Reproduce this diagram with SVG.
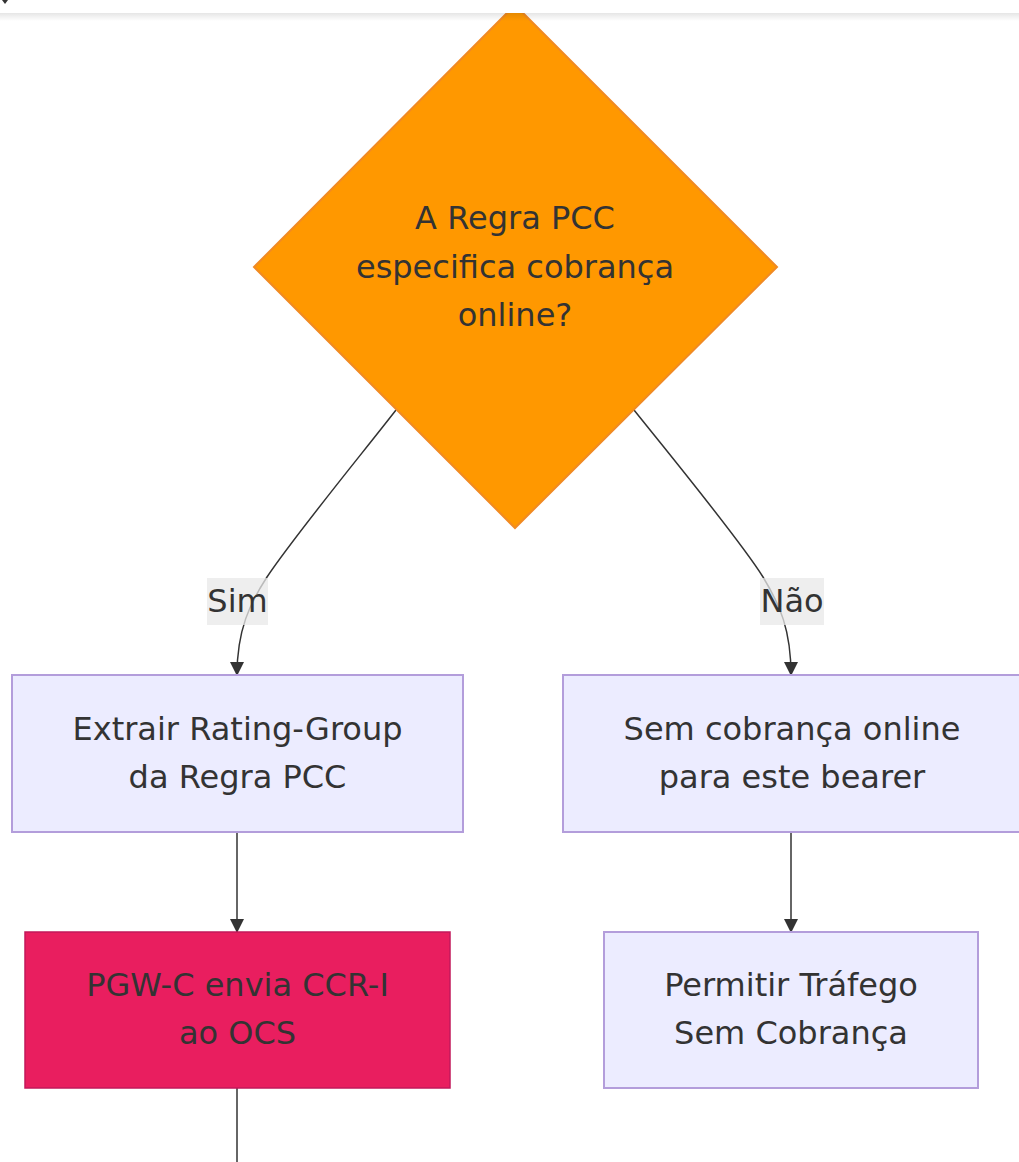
<svg xmlns="http://www.w3.org/2000/svg" width="1019" height="1162" viewBox="0 0 1019 1162">
<style>
  .lbl { font-family: "DejaVu Sans", "Liberation Sans", sans-serif; font-size: 32px; fill: #333333; text-anchor: middle; dominant-baseline: central; }
  .box { fill: #ECECFF; stroke: #B39DDB; stroke-width: 2; }
  .edge { fill: none; stroke: #333333; stroke-width: 1.5; }
  .elbg { fill: #E8E8E8; fill-opacity: 0.75; }
</style>
<defs>
  <marker id="arrow" viewBox="0 0 14 14" refX="13" refY="7" markerWidth="14" markerHeight="14" markerUnits="userSpaceOnUse" orient="auto">
    <path d="M0,0 L14,7 L0,14 z" fill="#333333"/>
  </marker>
  <linearGradient id="shadow" x1="0" y1="0" x2="0" y2="1">
    <stop offset="0" stop-color="#000" stop-opacity="0.10"/>
    <stop offset="1" stop-color="#000" stop-opacity="0"/>
  </linearGradient>
</defs>
<rect x="0" y="0" width="1019" height="1162" fill="#FFFFFF"/>

<g id="connectors">
  <path class="edge" d="M396,410 C365,450 295,535 267,577 C250,603 237,630 237,675" marker-end="url(#arrow)"/>
  <path class="edge" d="M634,410 C670,455 740,540 763,577 C780,605 791,630 791,675" marker-end="url(#arrow)"/>
  <path class="edge" d="M237,832 L237,932" marker-end="url(#arrow)"/>
  <path class="edge" d="M791,832 L791,932" marker-end="url(#arrow)"/>
  <path class="edge" d="M237,1088 L237,1162"/>
  <g id="label-sim">
    <rect class="elbg" x="207" y="578" width="61" height="47"/>
    <text class="lbl" x="237.5" y="601">Sim</text>
  </g>
  <g id="label-nao">
    <rect class="elbg" x="760" y="578" width="64" height="47"/>
    <text class="lbl" x="792" y="601">Não</text>
  </g>
</g>

<g id="decision">
  <polygon points="515,5 777,267 515,528 254,267" fill="#FF9800" stroke="#F08A24" stroke-width="2"/>
  <text class="lbl" x="515" y="218">A Regra PCC</text>
  <text class="lbl" x="515" y="267">especifica cobrança</text>
  <text class="lbl" x="515" y="315">online?</text>
</g>

<g id="extrair">
  <rect class="box" x="12" y="675" width="451" height="157"/>
  <text class="lbl" x="237.5" y="729">Extrair Rating-Group</text>
  <text class="lbl" x="237.5" y="777">da Regra PCC</text>
</g>

<g id="sem-cobranca">
  <rect class="box" x="563" y="675" width="460" height="157"/>
  <text class="lbl" x="792" y="729">Sem cobrança online</text>
  <text class="lbl" x="792" y="777">para este bearer</text>
</g>

<g id="pgw">
  <rect x="25" y="932" width="425" height="156" fill="#E91E5F" stroke="#C2185B" stroke-width="1.5"/>
  <text class="lbl" x="237.5" y="985">PGW-C envia CCR-I</text>
  <text class="lbl" x="237.5" y="1033">ao OCS</text>
</g>

<g id="permitir">
  <rect class="box" x="604" y="932" width="374" height="156"/>
  <text class="lbl" x="791" y="985">Permitir Tráfego</text>
  <text class="lbl" x="791" y="1033">Sem Cobrança</text>
</g>

<g id="topbar">
  <rect x="0" y="0" width="1019" height="13" fill="#FFFFFF"/>
  <rect x="0" y="13" width="1019" height="8" fill="url(#shadow)"/>
  <polygon points="2,0 8,0 5,4" fill="#333333"/>
</g>
</svg>
